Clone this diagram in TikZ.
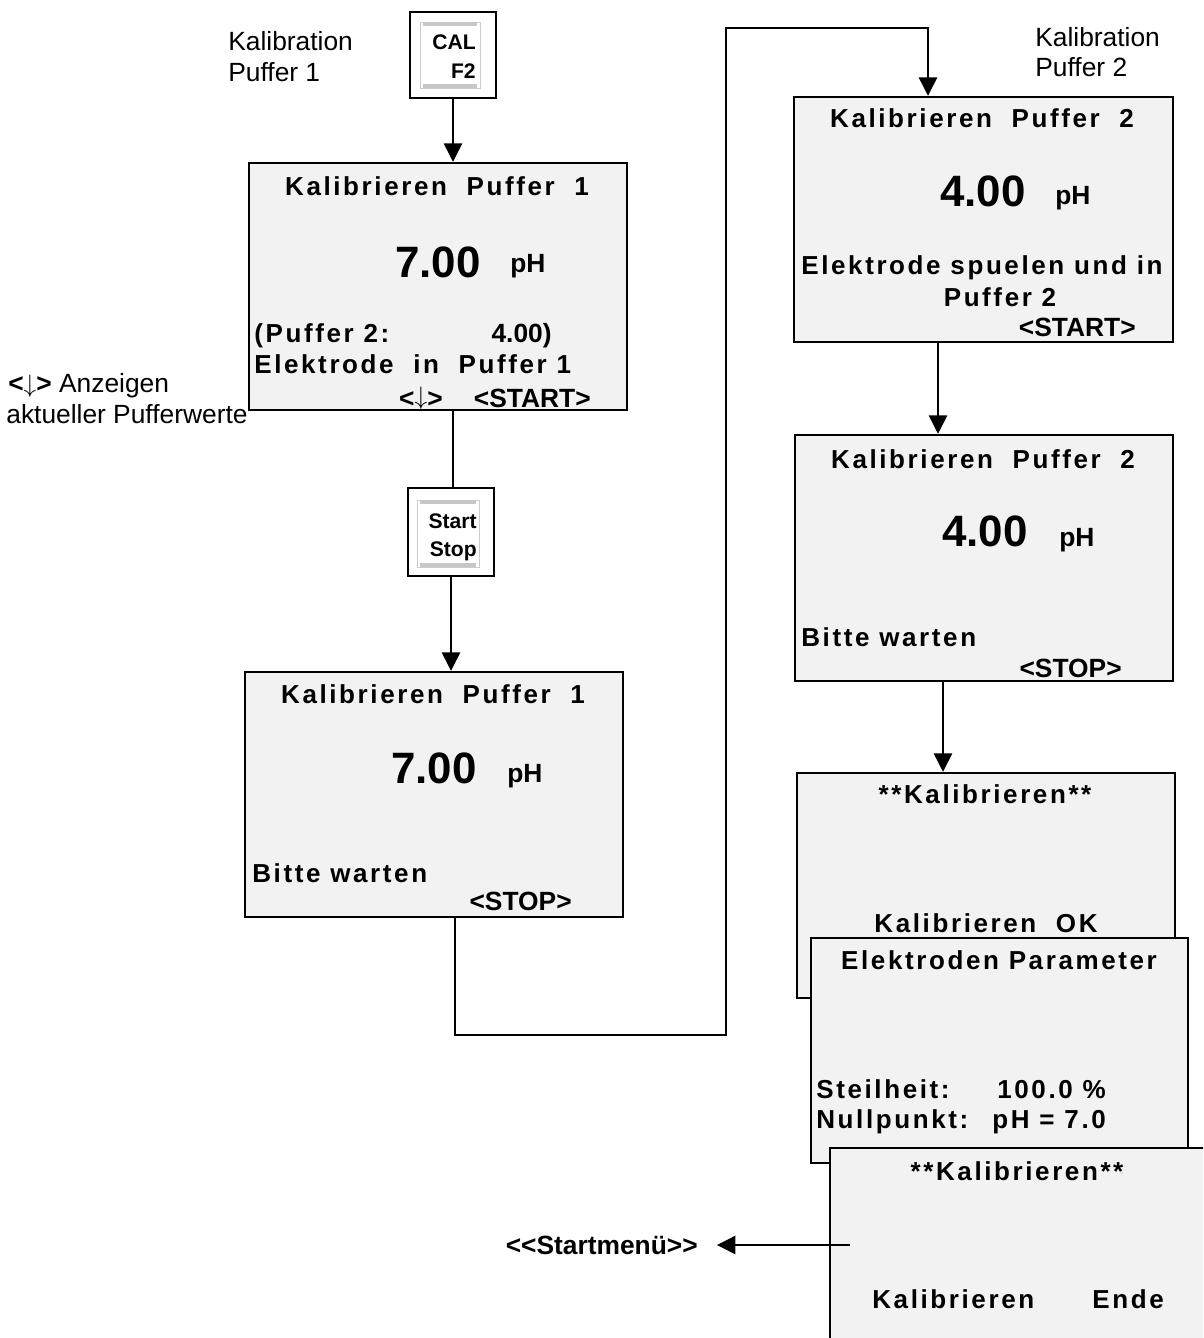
\documentclass[tikz,border=0pt]{standalone}
\usepackage{fontspec}
\setmainfont{Liberation Sans}
\newfontfamily\lcdfont[LetterSpace=10]{Liberation Sans}
\usetikzlibrary{arrows.meta}
\usetikzlibrary{fit}
\usetikzlibrary{calc}
\tikzset{scr/.style={draw,line width=1.4pt,fill=black!5,inner sep=0pt}}
\tikzset{key/.style={draw,line width=0.6pt,fill=white,inner sep=0pt}}
\tikzset{keyin/.style={draw=black!20,line width=0.5pt}}
\tikzset{keybar/.style={draw=black!22,line width=2.2pt}}
\tikzset{keytxt/.style={inner sep=0pt,anchor=base east,font=\bfseries\fontsize{12}{14}\selectfont}}
\tikzset{lcd/.style={inner sep=0pt,font=\lcdfont\bfseries\fontsize{14.8}{17}\selectfont}}
\tikzset{big/.style={inner sep=0pt,anchor=base,font=\bfseries\fontsize{25}{29}\selectfont}}
\tikzset{tag/.style={inner sep=0pt,font=\bfseries\fontsize{15}{17}\selectfont}}
\tikzset{note/.style={inner sep=0pt,anchor=base west,font=\fontsize{15}{17}\selectfont}}
\tikzset{flow/.style={line width=0.8pt,-{Triangle[length=10.5pt,width=10.5pt]}}}
\tikzset{wire/.style={line width=0.8pt}}

\begin{document}
\begin{tikzpicture}[x=0.02cm,y=-0.02cm]
  \clip (0,0) rectangle (1203,1338);
  % keys
  \node[key,fit={(410,12) (496,98)}] (cal) {};
  \draw[keyin] (420,22) rectangle (480,88);
  \draw[keybar] (423,24) -- (477,24);
  \draw[keybar] (423,86) -- (477,86);
  \node[keytxt] (caltop) at (476,50) {CAL};
  \node[keytxt] (calbot) at (476,79) {F2};
  \node[key,fit={(408,488) (494,576)}] (start) {};
  \draw[keyin] (417,500) rectangle (479,567);
  \draw[keybar] (420,502) -- (476,502);
  \draw[keybar] (420,565) -- (476,565);
  \node[keytxt] (starttop) at (477,528) {Start};
  \node[keytxt] (startbot) at (477,556) {Stop};
  % notes
  \node[note] (buf1a) at (228,51) {Kalibration};
  \node[note] (buf1b) at (228,82) {Puffer 1};
  \node[note] (buf2a) at (1035,47) {Kalibration};
  \node[note] (buf2b) at (1035,77) {Puffer 2};
  \node[note] (showa) at (8,392) {\textbf{<}$\downarrow$\textbf{>} Anzeigen};
  \node[note] (showb) at (6,423) {aktueller Pufferwerte};
  % screen 1
  \node[scr,fit={(249,163) (627,410)}] (s1) {};
  \node[lcd,anchor=base] (s1title) at (437,195) {Kalibrieren\ \ Puffer\ \ 1};
  \node[big] (s1val) at (438,277) {7.00};
  \node[tag,anchor=base west] (s1unit) at (510,272) {pH};
  \node[lcd,anchor=base west] (s1buf) at (254,342) {(Puffer 2:};
  \node[tag,anchor=base east] (s1bufval) at (552,342) {4.00)};
  \node[lcd,anchor=base west] (s1msg) at (254,373) {Elektrode\ \ in\ \ Puffer 1};
  \node[tag,anchor=base east] (s1arrow) at (443,407) {<\raisebox{1.5pt}{$\downarrow$}>};
  \node[tag,anchor=base east] (s1key) at (591,407) {<START>};
  % screen 2
  \node[scr,fit={(245,672) (623,917)}] (s2) {};
  \node[lcd,anchor=base] (s2title) at (433,703) {Kalibrieren\ \ Puffer\ \ 1};
  \node[big] (s2val) at (434,783) {7.00};
  \node[tag,anchor=base west] (s2unit) at (507,782) {pH};
  \node[lcd,anchor=base west] (s2msg) at (252,882) {Bitte warten};
  \node[tag,anchor=base east] (s2key) at (572,910) {<STOP>};
  % screen 3
  \node[scr,fit={(794,97) (1173,342)}] (s3) {};
  \node[lcd,anchor=base] (s3title) at (982,128) {Kalibrieren\ \ Puffer\ \ 2};
  \node[big] (s3val) at (983,207) {4.00};
  \node[tag,anchor=base west] (s3unit) at (1055,205) {pH};
  \node[lcd,anchor=base west] (s3msg) at (801,275) {Elektrode spuelen und in};
  \node[lcd,anchor=base] (s3msgb) at (1000,306) {Puffer 2};
  \node[tag,anchor=base east] (s3key) at (1136,336) {<START>};
  % screen 4
  \node[scr,fit={(795,435) (1173,681)}] (s4) {};
  \node[lcd,anchor=base] (s4title) at (983,468) {Kalibrieren\ \ Puffer\ \ 2};
  \node[big] (s4val) at (985,546) {4.00};
  \node[tag,anchor=base west] (s4unit) at (1059,546) {pH};
  \node[lcd,anchor=base west] (s4msg) at (801,646) {Bitte warten};
  \node[tag,anchor=base east] (s4key) at (1122,677) {<STOP>};
  % screens 5-7, stacked
  \node[scr,fit={(797,773) (1175,998)}] (s5) {};
  \node[lcd,anchor=base] (s5title) at (985,803) {**Kalibrieren**};
  \node[lcd,anchor=base] (s5msg) at (986,932) {Kalibrieren\ \ OK};
  \node[scr,fit={(811,938) (1188,1163)}] (s6) {};
  \node[lcd,anchor=base] (s6title) at (999,969) {Elektroden Parameter};
  \node[lcd,anchor=base west] (s6slope) at (816,1098) {Steilheit:};
  \node[lcd,anchor=base west] (s6slopeval) at (997,1098) {100.0 \%};
  \node[lcd,anchor=base west] (s6zero) at (816,1128) {Nullpunkt:};
  \node[lcd,anchor=base west] (s6zeroval) at (992,1128) {pH = 7.0};
  \node[scr,fit={(830,1148) (1215,1350)}] (s7) {};
  \node[lcd,anchor=base] (s7title) at (1017,1180) {**Kalibrieren**};
  \node[lcd,anchor=base west] (s7left) at (872,1308) {Kalibrieren};
  \node[lcd,anchor=base west] (s7right) at (1092,1308) {Ende};
  \node[tag,anchor=base east] (menu) at (698,1254) {<{}<Startmenü>{}>};
  % connectors
  \coordinate (turnA) at (455,1035);
  \coordinate (turnB) at (726,28);
  \coordinate (in3) at (928,0);
  \coordinate (in4) at (938,0);
  \coordinate (in5) at (943,0);
  \coordinate (out7) at (850,1245);
  \draw[flow] (cal.south) -- (cal.south |- s1.north);
  \draw[wire] (s1.south -| cal) -- (start.north -| cal);
  \draw[flow] (start.south) -- (start.south |- s2.north);
  \draw[flow] (s2.south -| turnA) -- (turnA) -| (turnB) -| (s3.north -| in3);
  \draw[flow] (s3.south -| in4) -- (s4.north -| in4);
  \draw[flow] (s4.south -| in5) -- (s5.north -| in5);
  \draw[flow] (out7) -- ($(menu.east |- out7)+(19,0)$);
\end{tikzpicture}
\end{document}
